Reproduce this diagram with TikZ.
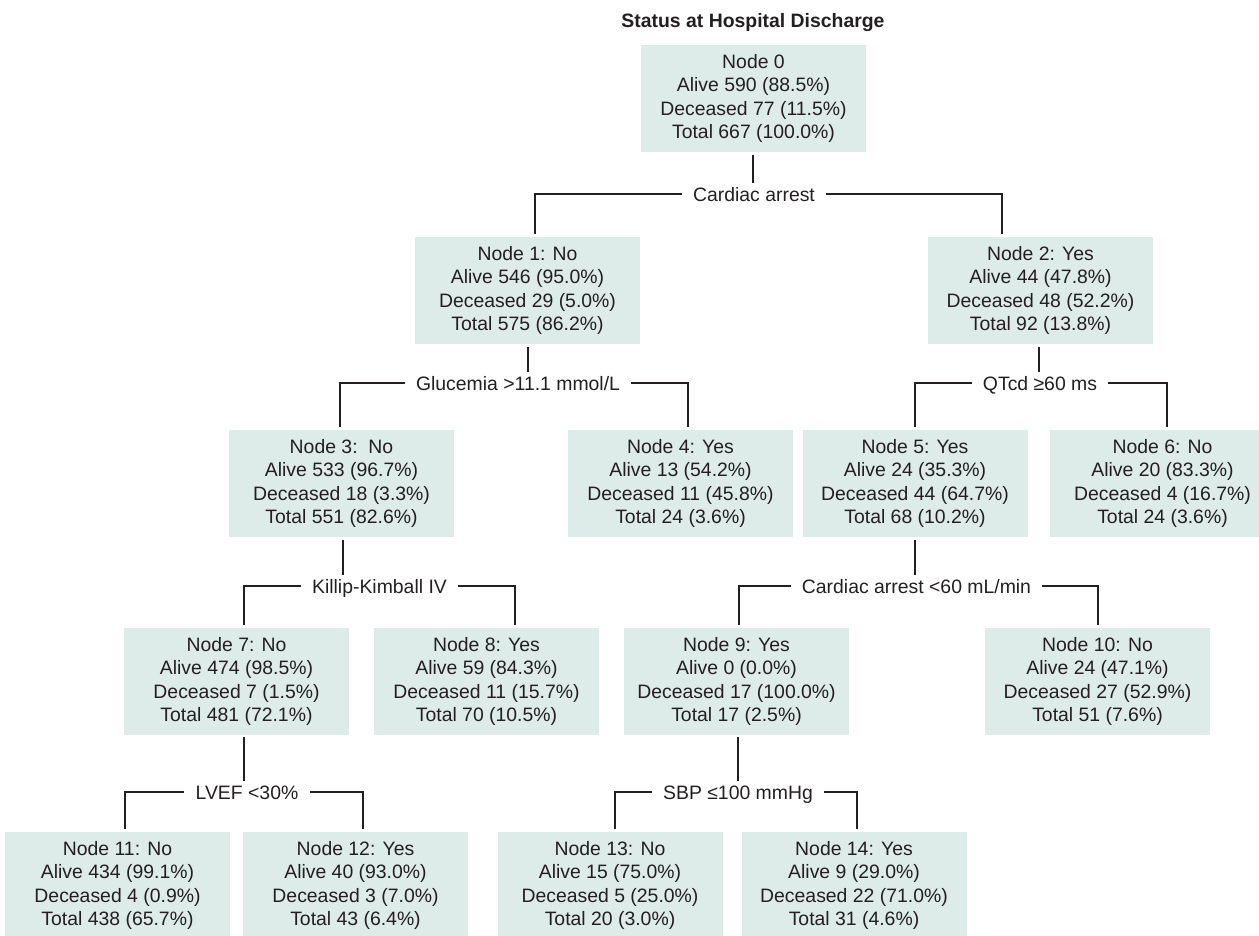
\documentclass[tikz,border=0pt]{standalone}
\usepackage{fontspec}
\setmainfont{Liberation Sans}
\definecolor{boxfill}{RGB}{221,236,232}
\definecolor{ink}{RGB}{35,31,32}
\begin{document}
\begin{tikzpicture}[x=0.5pt,y=-0.5pt,
  nbox/.style={fill=boxfill, minimum width=112.5pt, minimum height=53.5pt, inner sep=0pt, align=center, text=ink, font=\fontsize{9.7}{11.8}\selectfont},
  splitlab/.style={text=ink, font=\fontsize{9.7}{11.8}\selectfont, text height=8pt, text depth=0.5pt, inner ysep=1.25pt, inner xsep=5.5pt},
  conn/.style={draw=ink, line width=1pt}]
\useasboundingbox (0,0) rectangle (1259,936);
\clip (0,0) rectangle (1259,936);

\node[text=ink, font=\fontsize{9.7}{11.8}\selectfont\bfseries, anchor=base] (title) at (753,28) {Status at Hospital Discharge};

% boxes
\node[nbox] (n0) at (753.5,98.5) {Node 0\\Alive 590 (88.5\%)\\Deceased 77 (11.5\%)\\Total 667 (100.0\%)};
\node[nbox] (n1) at (527.5,290.5) {Node 1: No\\Alive 546 (95.0\%)\\Deceased 29 (5.0\%)\\Total 575 (86.2\%)};
\node[nbox] (n2) at (1040.5,290.5) {Node 2: Yes\\Alive 44 (47.8\%)\\Deceased 48 (52.2\%)\\Total 92 (13.8\%)};
\node[nbox] (n3) at (341.5,483.5) {Node 3:\ \ No\\Alive 533 (96.7\%)\\Deceased 18 (3.3\%)\\Total 551 (82.6\%)};
\node[nbox] (n4) at (680.5,483.5) {Node 4: Yes\\Alive 13 (54.2\%)\\Deceased 11 (45.8\%)\\Total 24 (3.6\%)};
\node[nbox] (n5) at (915,483.5) {Node 5: Yes\\Alive 24 (35.3\%)\\Deceased 44 (64.7\%)\\Total 68 (10.2\%)};
\node[nbox] (n6) at (1162.5,483.5) {Node 6: No\\Alive 20 (83.3\%)\\Deceased 4 (16.7\%)\\Total 24 (3.6\%)};
\node[nbox] (n7) at (236.5,681.5) {Node 7: No\\Alive 474 (98.5\%)\\Deceased 7 (1.5\%)\\Total 481 (72.1\%)};
\node[nbox] (n8) at (486.5,681.5) {Node 8: Yes\\Alive 59 (84.3\%)\\Deceased 11 (15.7\%)\\Total 70 (10.5\%)};
\node[nbox] (n9) at (736.5,681.5) {Node 9: Yes\\Alive 0 (0.0\%)\\Deceased 17 (100.0\%)\\Total 17 (2.5\%)};
\node[nbox] (n10) at (1097.5,681.5) {Node 10: No\\Alive 24 (47.1\%)\\Deceased 27 (52.9\%)\\Total 51 (7.6\%)};
\node[nbox] (n11) at (117.5,885.5) {Node 11: No\\Alive 434 (99.1\%)\\Deceased 4 (0.9\%)\\Total 438 (65.7\%)};
\node[nbox] (n12) at (355.5,885.5) {Node 12: Yes\\Alive 40 (93.0\%)\\Deceased 3 (7.0\%)\\Total 43 (6.4\%)};
\node[nbox] (n13) at (610,885.5) {Node 13: No\\Alive 15 (75.0\%)\\Deceased 5 (25.0\%)\\Total 20 (3.0\%)};
\node[nbox] (n14) at (854,885.5) {Node 14: Yes\\Alive 9 (29.0\%)\\Deceased 22 (71.0\%)\\Total 31 (4.6\%)};

% split labels
\node[splitlab] (lab0) at (754,194) {Cardiac arrest};
\node[splitlab] (lab1) at (518,383) {Glucemia >11.1 mmol/L};
\node[splitlab] (lab2) at (1040,383) {QTcd ≥60 ms};
\node[splitlab] (lab3) at (379.5,586) {Killip-Kimball IV};
\node[splitlab] (lab5) at (916.5,586) {Cardiac arrest <60 mL/min};
\node[splitlab] (lab7) at (247,792) {LVEF <30\%};
\node[splitlab] (lab9) at (738,792) {SBP ≤100 mmHg};

% attachment points
\coordinate (b0) at (753,155);
\coordinate (b1) at (528,347);
\coordinate (b2) at (1039,347);
\coordinate (b3) at (343,540);
\coordinate (b5) at (915,540);
\coordinate (b7) at (244,737);
\coordinate (b9) at (738,737);

\coordinate (t1) at (535,234);
\coordinate (t2) at (1002,234);
\coordinate (t3) at (340,427);
\coordinate (t4) at (688,427);
\coordinate (t5) at (915,427);
\coordinate (t6) at (1167,427);
\coordinate (t7) at (244,625);
\coordinate (t8) at (515,625);
\coordinate (t9) at (739,625);
\coordinate (t10) at (1098,625);
\coordinate (t11) at (125,829);
\coordinate (t12) at (363,829);
\coordinate (t13) at (615,829);
\coordinate (t14) at (857,829);

% connectors
\draw[conn] (b0) -- (b0 |- lab0.north);
\draw[conn] (lab0.west) -| (t1);
\draw[conn] (lab0.east) -| (t2);

\draw[conn] (b1) -- (b1 |- lab1.north);
\draw[conn] (lab1.west) -| (t3);
\draw[conn] (lab1.east) -| (t4);

\draw[conn] (b2) -- (b2 |- lab2.north);
\draw[conn] (lab2.west) -| (t5);
\draw[conn] (lab2.east) -| (t6);

\draw[conn] (b3) -- (b3 |- lab3.north);
\draw[conn] (lab3.west) -| (t7);
\draw[conn] (lab3.east) -| (t8);

\draw[conn] (b5) -- (b5 |- lab5.north);
\draw[conn] (lab5.west) -| (t9);
\draw[conn] (lab5.east) -| (t10);

\draw[conn] (b7) -- (b7 |- lab7.north);
\draw[conn] (lab7.west) -| (t11);
\draw[conn] (lab7.east) -| (t12);

\draw[conn] (b9) -- (b9 |- lab9.north);
\draw[conn] (lab9.west) -| (t13);
\draw[conn] (lab9.east) -| (t14);
\end{tikzpicture}
\end{document}
